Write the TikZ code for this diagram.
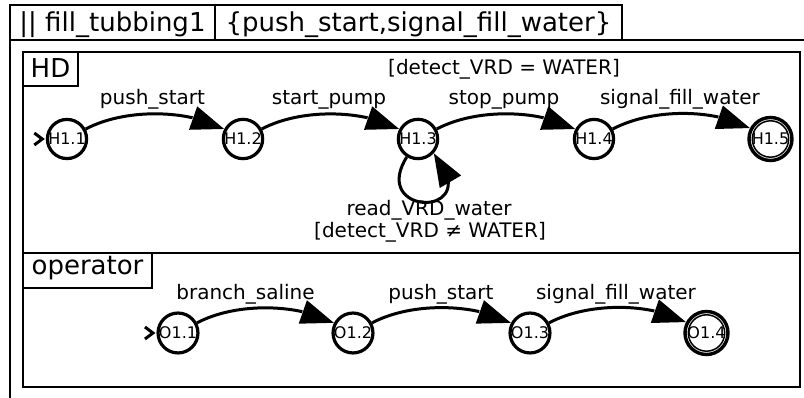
\documentclass[tikz,border=0pt]{standalone}
\usepackage{fontspec}
\setmainfont{DejaVu Sans}
\usetikzlibrary{arrows.meta,bending}
\begin{document}
\begin{tikzpicture}[x=1pt,y=1pt,
  frame/.style={line width=2.8pt},
  st/.style={circle, draw, line width=3.2pt, minimum size=37pt, inner sep=0pt, font=\fontsize{16pt}{18pt}\selectfont},
  acc/.style={circle, draw, line width=3.4pt, minimum size=43pt, inner sep=0pt, font=\fontsize{16pt}{18pt}\selectfont},
  edge/.style={line width=3pt, -{Triangle[length=33pt,width=24pt]}},
  lbl/.style={anchor=base, font=\fontsize{20pt}{24pt}\selectfont, inner sep=0pt},
  big/.style={anchor=base, font=\fontsize{26pt}{30pt}\selectfont, inner sep=0pt},
  initmark/.style={line width=3pt}
]
\useasboundingbox (0,0) rectangle (804,398);
\fill[white] (0,0) rectangle (804,398);
% outer frame and title
\draw[frame] (10,-3) -- (10,393) -- (622,393) -- (622,358);
\draw[frame] (10,358) -- (807,358);
\draw[frame] (215,393) -- (215,358);
\node[big] (title1) at (112.5,366.5) {|| fill\_tubbing1};
\node[big] (title2) at (418.5,366.5) {\{push\_start,signal\_fill\_water\}};
% HD box
\draw[frame] (23,346) rectangle (800,145);
\draw[frame] (23,346) rectangle (78,312);
\node[big] (hdlbl) at (50.5,320) {HD};
% operator box
\draw[frame] (23,145) rectangle (800,11);
\draw[frame] (23,145) rectangle (152,110);
\node[big] (oplbl) at (87.5,123) {operator};
% HD states
\node[st] (h11) at (67,259) {H1.1};
\node[st] (h12) at (243,259) {H1.2};
\node[st] (h13) at (418,259) {H1.3};
\node[st] (h14) at (594,259) {H1.4};
\node[acc] (h15) at (770.5,259) {H1.5};
\draw[line width=1.5pt] (h15.center) circle (18.2pt);
% operator states
\node[st] (o11) at (178,65) {O1.1};
\node[st] (o12) at (353,65) {O1.2};
\node[st] (o13) at (530,65) {O1.3};
\node[acc] (o14) at (706.5,65) {O1.4};
\draw[line width=1.5pt] (o14.center) circle (18.2pt);
% initial markers
\draw[initmark] ([shift={(-11.5,6)}]h11.west) -- ([shift={(-3.5,0)}]h11.west) -- ([shift={(-11.5,-6)}]h11.west);
\draw[initmark] ([shift={(-11.5,6)}]o11.west) -- ([shift={(-3.5,0)}]o11.west) -- ([shift={(-11.5,-6)}]o11.west);
% HD transitions
\draw[edge] (h11) to[out=28,in=152,looseness=0.8] (h12);
\draw[edge] (h12) to[out=28,in=152,looseness=0.8] (h13);
\draw[edge] (h13) to[out=28,in=152,looseness=0.8] (h14);
\draw[edge] (h14) to[out=28,in=152,looseness=0.8] (h15);
\draw[edge] (h13.238) .. controls +(238:72) and +(310:85) .. (h13.318);
% operator transitions
\draw[edge] (o11) to[out=28,in=152,looseness=0.8] (o12);
\draw[edge] (o12) to[out=28,in=152,looseness=0.8] (o13);
\draw[edge] (o13) to[out=28,in=152,looseness=0.8] (o14);
% labels
\node[lbl] (l1) at (152.5,293) {push\_start};
\node[lbl] (l2) at (329,293) {start\_pump};
\node[lbl] (l3) at (504,293) {stop\_pump};
\node[lbl] (l3g) at (504,323) {[detect\_VRD = WATER]};
\node[lbl] (l4) at (680,293) {signal\_fill\_water};
\node[lbl] (l5) at (429,182) {read\_VRD\_water};
\node[lbl] (l5g) at (430,160) {[detect\_VRD ≠ WATER]};
\node[lbl] (m1) at (245.5,98) {branch\_saline};
\node[lbl] (m2) at (441,98) {push\_start};
\node[lbl] (m3) at (616,98) {signal\_fill\_water};
\end{tikzpicture}
\end{document}
